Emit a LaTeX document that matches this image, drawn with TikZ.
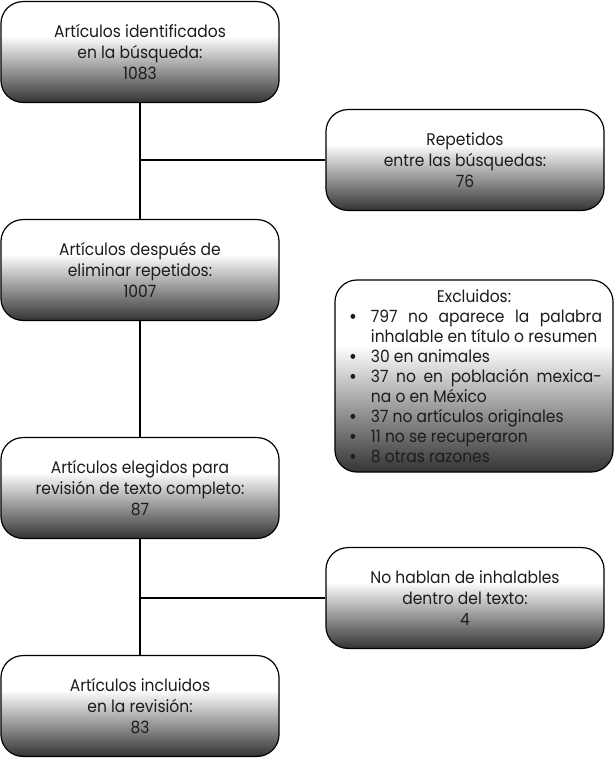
\documentclass[tikz,border=0pt]{standalone}
\usepackage{fontspec}
\setmainfont[FakeStretch=0.92]{Poppins}
\usepackage{tikz}
\usetikzlibrary{positioning}
\definecolor{fondo}{RGB}{52,52,52}
\definecolor{texto}{RGB}{28,28,28}
\pgfdeclareverticalshading{caja}{100bp}{color(0bp)=(fondo); color(25bp)=(fondo); color(58bp)=(white); color(100bp)=(white)}
\newcommand{\exitem}{\par\noindent\hangindent=0.625cm\hangafter=1\makebox[0.625cm][l]{\hspace{0.08cm}\textbf{\textbullet}}}
\tikzset{
	flujo/.style={draw=black, line width=0.85pt, rounded corners=0.55cm, shading=caja, minimum width=6.95cm, minimum height=2.52cm, align=center, text=texto, font=\fontsize{12}{15}\selectfont, inner sep=0pt},
	excluye/.style={flujo, minimum height=4.8cm, text width=6.4cm, align=justify, font=\fontsize{12}{14.2}\selectfont},
	linea/.style={line width=1pt}
}

\begin{document}
\begin{tikzpicture}[x=0.025cm,y=-0.025cm]
	\useasboundingbox (0,0) rectangle (616,759);
	
	\node[flujo] (ident) at (140,52) {Artículos identificados\\en la búsqueda:\\1083};
	\node[flujo] (repet) at (465,160) {Repetidos\\entre las búsquedas:\\76};
	\node[flujo] (despues) at (140,270) {Artículos después de\\eliminar repetidos:\\1007};
	\node[flujo] (elegidos) at (140,488) {Artículos elegidos para\\revisión de texto completo:\\87};
	\node[flujo] (nohablan) at (465,598) {No hablan de inhalables\\dentro del texto:\\4};
	\node[flujo] (incluidos) at (140,706) {Artículos incluidos\\en la revisión:\\83};
	
	\node[excluye] (excl) at (474,376) {\hyphenpenalty=10000\relax
		{\centering Excluidos:\par}
		\exitem 797 no aparece la palabra\linebreak inhalable en título o resumen
		\exitem 30 en animales
		\exitem 37 no en población mexica-\linebreak na o en México
		\exitem 37 no artículos originales
		\exitem 11 no se recuperaron
		\exitem 8 otras razones};
	
	\draw[linea] (ident) -- (despues);
	\draw[linea] (despues) -- (elegidos);
	\draw[linea] (elegidos) -- (incluidos);
	
	\coordinate (rama1) at (ident.south |- repet.west);
	\coordinate (rama2) at (elegidos.south |- nohablan.west);
	\draw[linea] (rama1) -- (repet);
	\draw[linea] (rama2) -- (nohablan);
	
\end{tikzpicture}
\end{document}
